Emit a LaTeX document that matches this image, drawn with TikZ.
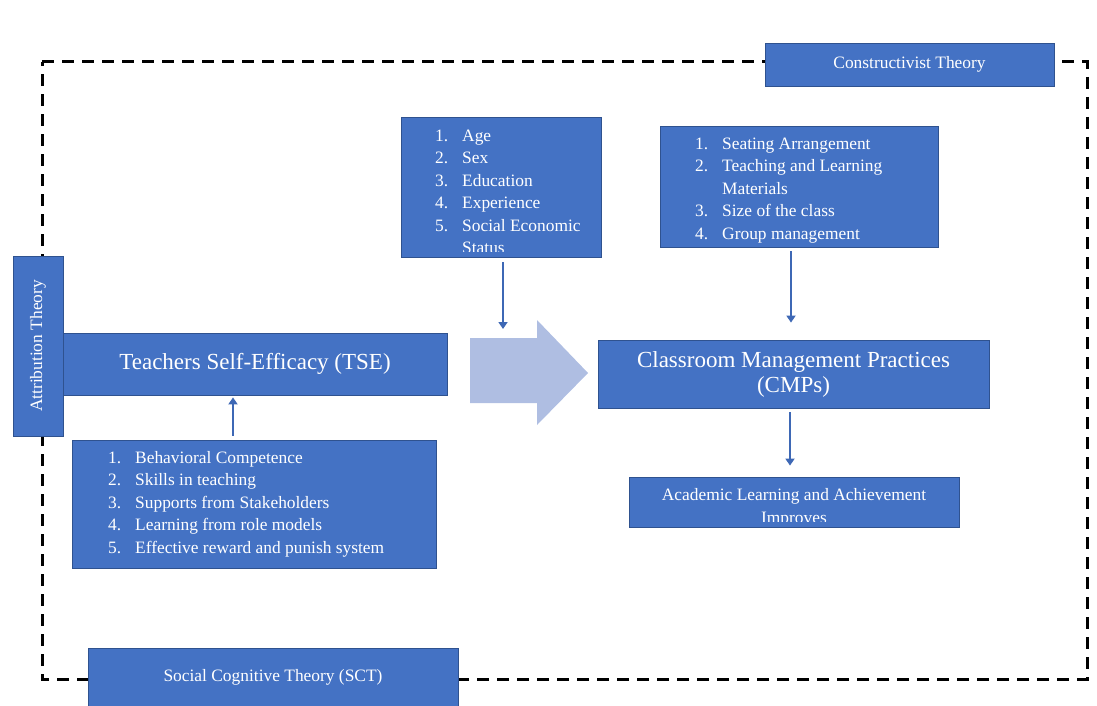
\documentclass[tikz,border=0pt]{standalone}
\usepackage{fontspec}
\setmainfont{Liberation Serif}
\usetikzlibrary{arrows.meta, positioning}
\definecolor{boxblue}{HTML}{4472C4}
\definecolor{boxline}{HTML}{2F528F}
\definecolor{flowblue}{HTML}{AFBEE2}
\definecolor{arrowblue}{HTML}{3E68B5}
\newcommand{\lst}[2]{\strut\makebox[27pt][l]{#1}#2}
\tikzset{
  box/.style={rectangle, draw=boxline, fill=boxblue, line width=0.8pt, inner sep=0pt, text=white, font=\fontsize{17.4}{23}\selectfont, align=center},
  bigbox/.style={box, font=\fontsize{23}{25}\selectfont},
  listtext/.style={anchor=north west, inner sep=0pt, text=white, align=left, font=\fontsize{17.4}{22.5}\selectfont},
  arrow/.style={line width=2.5pt, draw=arrowblue, -{Triangle[width=9pt,length=7pt]}},
  frame/.style={draw=black, line width=3pt, dash pattern=on 12pt off 8pt}
}
\begin{document}
\begin{tikzpicture}[x=1pt, y=-1pt]
  \useasboundingbox (0,0) rectangle (1097,706);

  % Dashed frame
  \draw [frame] (42,62) -- (1087,62) -- (1087,679) -- (42,679) -- cycle;

  % Big flow arrow
  \fill [flowblue] (470,338) -- (537,338) -- (537,320) -- (588,373) -- (537,425) -- (537,403) -- (470,403) -- cycle;
  \coordinate (flowtop) at (503,329);

  % Theory boxes
  \node (constr) [box, minimum width=289pt, minimum height=43pt] at (909.5,64.5) {Constructivist Theory};
  \node (sct) [box, minimum width=370pt, minimum height=58pt] at (273,677) {\raisebox{4pt}{Social Cognitive Theory (SCT)}};

  % Main boxes
  \node (tse) [bigbox, minimum width=384pt, minimum height=62pt] at (255,364) {Teachers Self-Efficacy (TSE)};
  \node (attr) [box, rotate=90, minimum width=180pt, minimum height=50pt] at (38,346) {Attribution Theory};
  \node (cmp) [bigbox, minimum width=391pt, minimum height=68pt] at (793.5,374) {Classroom Management Practices\\(CMPs)};

  % Demographic factors
  \node (demo) [box, minimum width=200pt, minimum height=140pt] at (501,187) {};
  \begin{scope}
    \clip (401,117) rectangle (601,251);
    \node (demolist) [listtext] at (435,125.25) {\lst{1.}{Age}\\\lst{2.}{Sex}\\\lst{3.}{Education}\\\lst{4.}{Experience}\\\lst{5.}{Social Economic}\\\lst{}{Status}};
  \end{scope}

  % Classroom factors
  \node (seat) [box, minimum width=278pt, minimum height=121pt] at (799,186.5) {};
  \node (seatlist) [listtext] at (695,133.25) {\lst{1.}{Seating Arrangement}\\\lst{2.}{Teaching and Learning}\\\lst{}{Materials}\\\lst{3.}{Size of the class}\\\lst{4.}{Group management}};

  % Sources of efficacy
  \node (behav) [box, minimum width=364pt, minimum height=128pt] at (254,504) {};
  \node (behavlist) [listtext] at (108,447.25) {\lst{1.}{Behavioral Competence}\\\lst{2.}{Skills in teaching}\\\lst{3.}{Supports from Stakeholders}\\\lst{4.}{Learning from role models}\\\lst{5.}{Effective reward and punish system}};

  % Outcome
  \node (ach) [box, minimum width=330pt, minimum height=50pt] at (794,502) {};
  \begin{scope}
    \clip (629,477) rectangle (959,521);
    \node (achtext) [anchor=north, inner sep=0pt, text=white, align=center, font=\fontsize{17.4}{23}\selectfont] at (794,483.9) {\strut Academic Learning and Achievement\\\strut Improves};
  \end{scope}

  % Connections
  \draw [arrow] ([xshift=2pt,yshift=-5pt]demo.south) -- (flowtop);
  \draw [arrow] ([xshift=-8pt,yshift=-4pt]seat.south) -- ([xshift=-2.5pt,yshift=17pt]cmp.north);
  \draw [arrow] ([xshift=-3.5pt,yshift=-4pt]cmp.south) -- ([xshift=-4pt,yshift=11pt]ach.north);
  \draw [arrow] ([xshift=-21pt,yshift=4pt]behav.north) -- ([xshift=-22pt,yshift=-2pt]tse.south);

\end{tikzpicture}
\end{document}
